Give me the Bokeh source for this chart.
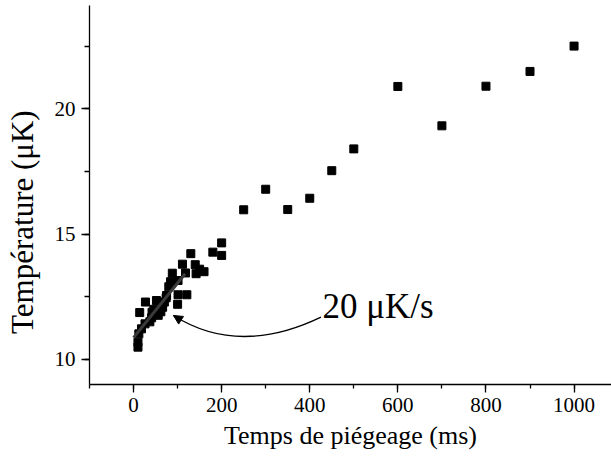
import numpy as np
from bokeh.plotting import figure
from bokeh.models import (SingleIntervalTicker, Label, Arrow, NormalHead, Range1d)
from bokeh.embed import file_html
from bokeh.resources import INLINE

# Trapping time (ms) and temperature (uK)
time_ms = [10, 10, 12, 18, 26, 37, 14, 42, 27, 52, 41, 46, 56, 62, 66, 70, 74, 75,
           80, 84, 88, 100, 101, 101, 111, 118, 121, 130, 140, 142, 150, 160, 180,
           200, 200, 250, 300, 350, 400, 450, 500, 600, 700, 800, 900, 1000]
temp_uK = [10.49, 10.69, 11.02, 11.22, 11.42, 11.50, 11.87, 11.88, 12.29, 12.35,
           11.66, 12.00, 11.76, 11.90, 12.08, 12.29, 12.46, 12.55, 12.90, 13.10,
           13.44, 12.20, 12.58, 13.15, 13.80, 13.45, 12.58, 14.22, 13.78, 13.42,
           13.60, 13.50, 14.28, 14.65, 14.15, 15.97, 16.79, 15.98, 16.43, 17.53,
           18.40, 20.89, 19.32, 20.90, 21.49, 22.50]

# Linear fit over the first ~120 ms (about 20 uK/s)
fit_x = [0, 117]
fit_y = [10.87, 13.42]

x_label = "Temps de piégeage (ms)"
y_label = "Température (μK)"
rate_label = "20 μK/s"

FONT = "Liberation Serif"

p = figure(width=611, height=459, output_backend="svg", toolbar_location=None,
           x_range=Range1d(-100, 1085), y_range=Range1d(9, 24.12),
           min_border_left=89, min_border_right=0, min_border_top=5,
           min_border_bottom=75)
p.outline_line_color = None
p.xgrid.grid_line_color = None
p.ygrid.grid_line_color = None
p.background_fill_color = "white"
p.border_fill_color = "white"

p.xaxis.ticker = SingleIntervalTicker(interval=200, num_minor_ticks=2)
p.yaxis.ticker = SingleIntervalTicker(interval=5, num_minor_ticks=2)
for ax in (p.xaxis, p.yaxis):
    ax.axis_line_width = 1.3
    ax.axis_line_color = "black"
    ax.major_tick_line_color = "black"
    ax.minor_tick_line_color = "black"
    ax.major_tick_line_width = 1.3
    ax.minor_tick_line_width = 1.3
    ax.major_tick_in = 0
    ax.minor_tick_in = 0
    ax.major_tick_out = 8
    ax.major_label_text_font = FONT
    ax.major_label_text_font_size = "21px"
    ax.major_label_text_color = "black"
    ax.axis_label_text_font = FONT
    ax.axis_label_text_font_style = "normal"
    ax.axis_label_text_color = "black"
p.xaxis.minor_tick_out = 4
p.yaxis.minor_tick_out = 5
p.xaxis.major_label_standoff = 5
p.yaxis.major_label_standoff = 6

p.xaxis.axis_label = x_label
p.xaxis.axis_label_text_font_size = "26px"
p.xaxis.axis_label_standoff = 6
# trailing no-break spaces shift the centred label down to match the original
p.yaxis.axis_label = y_label + "\u00a0" * 7
p.yaxis.axis_label_text_font_size = "31px"
p.yaxis.axis_label_standoff = 12

p.scatter(time_ms, temp_uK, marker="square", size=8, fill_color="black",
          line_color="black")
p.line(fit_x, fit_y, line_color="#3a3a3a", line_width=3)

# curved arrow
p.quadratic(x0=[425.5], y0=[11.69], x1=[90.6], y1=[11.755], cx=[238.9], cy=[10.11],
            line_color="black", line_width=1.3)
p.add_layout(Arrow(end=NormalHead(size=9, fill_color="black", line_color="black"),
                   x_start=105.4, y_start=11.59, x_end=90.6, y_end=11.755,
                   line_color="black", line_width=1.3))

p.add_layout(Label(x=429, y=12.11, text=rate_label, text_font=FONT,
                   text_font_size="35px", text_align="left",
                   text_baseline="alphabetic", text_color="black"))

open("out.html", "w").write(file_html(p, INLINE))
